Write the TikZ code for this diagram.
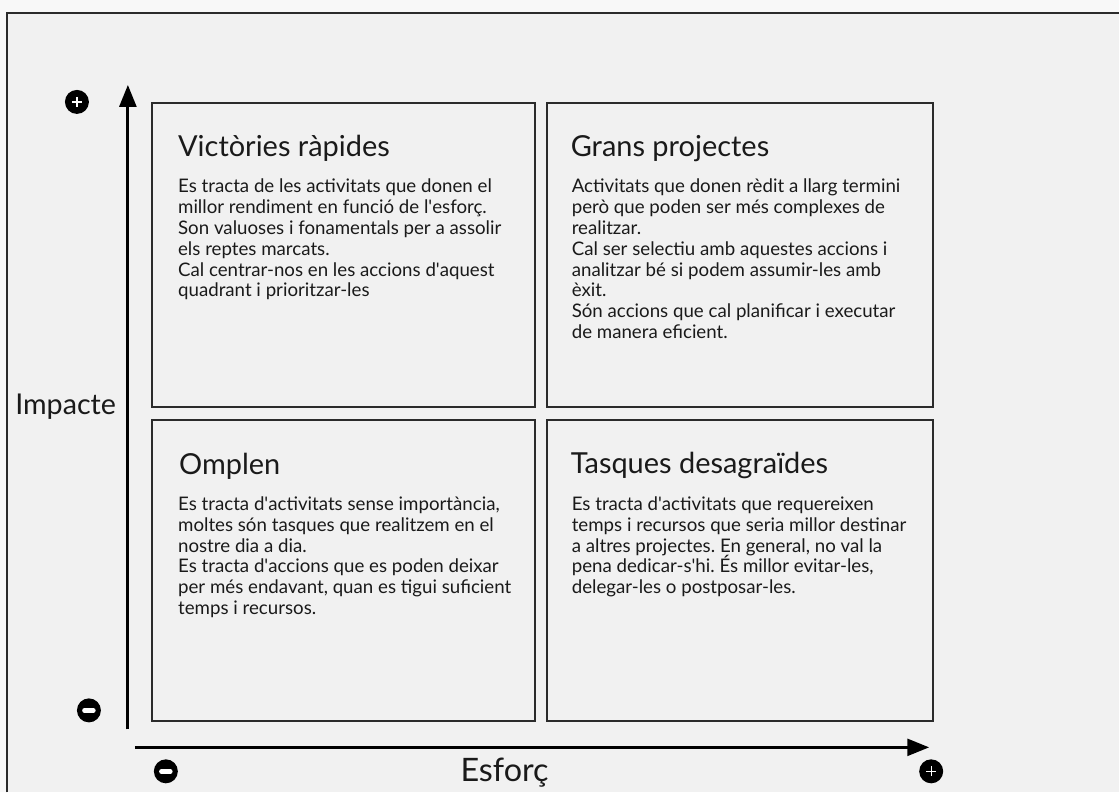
\documentclass[tikz,border=0pt]{standalone}
\usepackage{fontspec}
\setmainfont{Lato}
\usetikzlibrary{arrows.meta,positioning}
\definecolor{pagebg}{HTML}{F1F1F1}
\definecolor{outbg}{HTML}{F8F8F8}
\definecolor{ink}{HTML}{1A1A1A}
\definecolor{rulegray}{HTML}{2B2B2B}
\newcommand\ap{\textquotesingle}
\frenchspacing
\tikzset{
  quad/.style={draw=rulegray, line width=1.4pt},
  qtitle/.style={anchor=base west, inner sep=0pt, text=ink, font=\fontsize{20.6pt}{24pt}\selectfont},
  qtext/.style={anchor=north west, inner sep=0pt, align=left, text=ink, font=\fontsize{13.3pt}{14.8pt}\selectfont},
  axis/.style={draw=black, line width=2.1pt, -{Triangle[length=15.6pt,width=12pt]}},
  axlabel/.style={inner sep=0pt, text=ink, font=\fontsize{20.4pt}{24pt}\selectfont},
  plusdot/.pic={\fill[black] (0,0) circle[radius=12]; \draw[white, line width=0.9pt] (-5,0) -- (5,0) (0,-5) -- (0,5);},
  minusdot/.pic={\fill[black] (0,0) circle[radius=12]; \draw[white, line width=3.2pt, line cap=round] (-4.5,0) -- (4.5,0);}
}
\begin{document}
\begin{tikzpicture}[x=0.025cm,y=-0.025cm]
\fill[outbg] (0,0) rectangle (1120,793); \fill[pagebg] (7,13) rectangle (1120,793);
\draw[rulegray, line width=1.4pt] (7,793) -- (7,13) -- (1120,13);
\draw[quad] (152,103) rectangle (535,407); \draw[quad] (547,103) rectangle (934,407);
\draw[quad] (152,420) rectangle (535,722); \draw[quad] (547,420) rectangle (934,722);
\node[qtitle] (vrT) at (178,157) {Victòries ràpides};
\node[qtext] (vrB) at (178,179) {Es tracta de les activitats que donen el\\millor rendiment en funció de l\ap esforç.\\Son valuoses i fonamentals per a assolir\\els reptes marcats.\\Cal centrar-nos en les accions d\ap aquest\\quadrant i prioritzar-les};
\node[qtitle] (gpT) at (571,157) {Grans projectes};
\node[qtext] (gpB) at (572,179) {Activitats que donen rèdit a llarg termini\\però que poden ser més complexes de\\realitzar.\\Cal ser selectiu amb aquestes accions i\\analitzar bé si podem assumir-les amb\\èxit.\\Són accions que cal planificar i executar\\de manera eficient.};
\node[qtitle] (omT) at (179,475) {Omplen};
\node[qtext] (omB) at (178,497) {Es tracta d\ap activitats sense importància,\\moltes són tasques que realitzem en el\\nostre dia a dia.\\Es tracta d\ap accions que es poden deixar\\per més endavant, quan es tigui suficient\\temps i recursos.};
\node[qtitle] (tdT) at (571,474) {Tasques desagraïdes};
\node[qtext] (tdB) at (572,497) {Es tracta d\ap activitats que requereixen\\temps i recursos que seria millor destinar\\a altres projectes. En general, no val la\\pena dedicar-s\ap hi. És millor evitar-les,\\delegar-les o postposar-les.};
\coordinate (yfoot) at (128,730); \coordinate (ytip) at (128,85);
\coordinate (xfoot) at (135,748); \coordinate (xtip) at (930,748);
\draw[axis] (yfoot) -- (ytip); \draw[axis] (xfoot) -- (xtip);
\node[axlabel, anchor=west] (impL) at (15,407) {Impacte};
\node[axlabel, font=\fontsize{23pt}{26pt}\selectfont] (esfL) at (505,773) {Esforç};
\pic at (77,102) {plusdot}; \pic at (89,711) {minusdot};
\pic at (166,772) {minusdot}; \pic at (932,772) {plusdot};
\end{tikzpicture}
\end{document}
